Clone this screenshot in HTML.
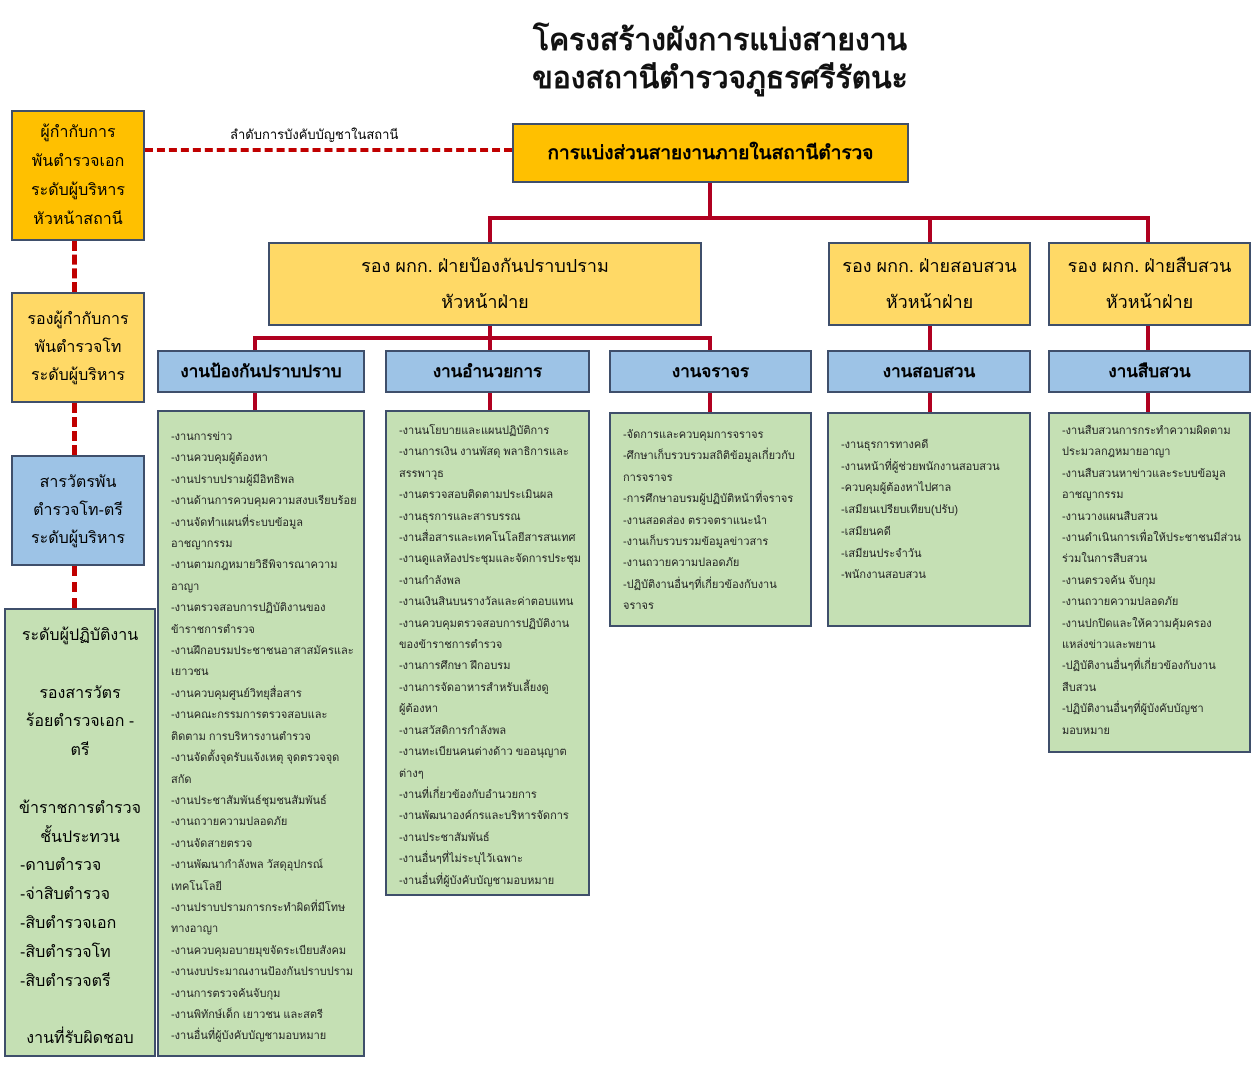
<!DOCTYPE html>
<html><head><meta charset="utf-8">
<style>
body{margin:0;width:1254px;height:1080px;background:#fff;position:relative;overflow:hidden;font-family:"Liberation Sans","DejaVu Sans",sans-serif;}
.b{position:absolute;box-sizing:border-box;border:2px solid #3f4f6b;}
.o{background:#ffc000;}
.y{background:#ffd966;}
.bl{background:#9dc3e6;}
.g{background:#c5e0b4;}
.c{display:flex;align-items:center;justify-content:center;text-align:center;}
.l{position:absolute;background:#b00020;}
.t{font-size:11px;line-height:21.4px;color:#222;padding:15px 0 0 12px;text-align:left;white-space:nowrap;}
.d{position:absolute;left:72px;width:0;border-left:5px dashed #c00000;}
</style></head><body>
<div style="position:absolute;left:470px;top:22px;width:500px;text-align:center;font-size:30px;font-weight:bold;line-height:38px;color:#111">โครงสร้างผังการแบ่งสายงาน<br>ของสถานีตำรวจภูธรศรีรัตนะ</div>

<div class="b o c" style="left:11px;top:110px;width:134px;height:131px;font-size:16px;line-height:29px">ผู้กำกับการ<br>พันตำรวจเอก<br>ระดับผู้บริหาร<br>หัวหน้าสถานี</div>
<div style="position:absolute;left:145px;top:148px;width:367px;border-top:4px dashed #c00000"></div>
<div style="position:absolute;left:230px;top:124px;font-size:13px">ลำดับการบังคับบัญชาในสถานี</div>
<div class="d" style="top:241px;height:51px"></div>
<div class="b y c" style="left:11px;top:292px;width:134px;height:111px;font-size:16px;line-height:28px">รองผู้กำกับการ<br>พันตำรวจโท<br>ระดับผู้บริหาร</div>
<div class="d" style="top:403px;height:52px"></div>
<div class="b bl c" style="left:11px;top:455px;width:134px;height:111px;font-size:16px;line-height:28px">สารวัตรพัน<br>ตำรวจโท-ตรี<br>ระดับผู้บริหาร</div>
<div class="d" style="top:566px;height:42px"></div>
<div class="b g" style="left:4px;top:608px;width:152px;height:449px;font-size:16px;line-height:28.8px;text-align:center;padding-top:12px">ระดับผู้ปฏิบัติงาน<br><br>รองสารวัตร<br>ร้อยตำรวจเอก -<br>ตรี<br><br>ข้าราชการตำรวจ<br>ชั้นประทวน<div style="text-align:left;padding-left:14px">-ดาบตำรวจ<br>-จ่าสิบตำรวจ<br>-สิบตำรวจเอก<br>-สิบตำรวจโท<br>-สิบตำรวจตรี</div><br>งานที่รับผิดชอบ</div>

<div class="b o c" style="left:512px;top:123px;width:397px;height:60px;font-size:19px;font-weight:bold">การแบ่งส่วนสายงานภายในสถานีตำรวจ</div>
<div class="l" style="left:708px;top:183px;width:4px;height:36px"></div>
<div class="l" style="left:488px;top:216px;width:662px;height:4px"></div>
<div class="l" style="left:488px;top:216px;width:4px;height:27px"></div>
<div class="l" style="left:928px;top:216px;width:4px;height:27px"></div>
<div class="l" style="left:1146px;top:216px;width:4px;height:27px"></div>

<div class="b y c" style="left:268px;top:242px;width:434px;height:84px;font-size:18px;line-height:36px">รอง ผกก. ฝ่ายป้องกันปราบปราม<br>หัวหน้าฝ่าย</div>
<div class="b y c" style="left:828px;top:242px;width:203px;height:84px;font-size:18px;line-height:36px">รอง ผกก. ฝ่ายสอบสวน<br>หัวหน้าฝ่าย</div>
<div class="b y c" style="left:1048px;top:242px;width:203px;height:84px;font-size:18px;line-height:36px">รอง ผกก. ฝ่ายสืบสวน<br>หัวหน้าฝ่าย</div>

<div class="l" style="left:488px;top:326px;width:4px;height:13px"></div>
<div class="l" style="left:253px;top:336px;width:459px;height:4px"></div>
<div class="l" style="left:253px;top:336px;width:4px;height:15px"></div>
<div class="l" style="left:488px;top:336px;width:4px;height:15px"></div>
<div class="l" style="left:708px;top:336px;width:4px;height:15px"></div>
<div class="l" style="left:928px;top:326px;width:4px;height:25px"></div>
<div class="l" style="left:1146px;top:326px;width:4px;height:25px"></div>

<div class="b bl c" style="left:157px;top:350px;width:208px;height:43px;font-size:17px;font-weight:bold">งานป้องกันปราบปราบ</div>
<div class="b bl c" style="left:385px;top:350px;width:205px;height:43px;font-size:17px;font-weight:bold">งานอำนวยการ</div>
<div class="b bl c" style="left:609px;top:350px;width:203px;height:43px;font-size:17px;font-weight:bold">งานจราจร</div>
<div class="b bl c" style="left:827px;top:350px;width:204px;height:43px;font-size:17px;font-weight:bold">งานสอบสวน</div>
<div class="b bl c" style="left:1048px;top:350px;width:203px;height:43px;font-size:17px;font-weight:bold">งานสืบสวน</div>

<div class="l" style="left:253px;top:393px;width:4px;height:18px"></div>
<div class="l" style="left:488px;top:393px;width:4px;height:18px"></div>
<div class="l" style="left:708px;top:393px;width:4px;height:20px"></div>
<div class="l" style="left:928px;top:393px;width:4px;height:20px"></div>
<div class="l" style="left:1146px;top:393px;width:4px;height:20px"></div>

<div class="b g t" style="left:157px;top:410px;width:208px;height:647px">-งานการข่าว<br>-งานควบคุมผู้ต้องหา<br>-งานปราบปรามผู้มีอิทธิพล<br>-งานด้านการควบคุมความสงบเรียบร้อย<br>-งานจัดทำแผนที่ระบบข้อมูล<br>อาชญากรรม<br>-งานตามกฎหมายวิธีพิจารณาความ<br>อาญา<br>-งานตรวจสอบการปฏิบัติงานของ<br>ข้าราชการตำรวจ<br>-งานฝึกอบรมประชาชนอาสาสมัครและ<br>เยาวชน<br>-งานควบคุมศูนย์วิทยุสื่อสาร<br>-งานคณะกรรมการตรวจสอบและ<br>ติดตาม การบริหารงานตำรวจ<br>-งานจัดตั้งจุดรับแจ้งเหตุ จุดตรวจจุด<br>สกัด<br>-งานประชาสัมพันธ์ชุมชนสัมพันธ์<br>-งานถวายความปลอดภัย<br>-งานจัดสายตรวจ<br>-งานพัฒนากำลังพล วัสดุอุปกรณ์<br>เทคโนโลยี<br>-งานปราบปรามการกระทำผิดที่มีโทษ<br>ทางอาญา<br>-งานควบคุมอบายมุขจัดระเบียบสังคม<br>-งานงบประมาณงานป้องกันปราบปราม<br>-งานการตรวจค้นจับกุม<br>-งานพิทักษ์เด็ก เยาวชน และสตรี<br>-งานอื่นที่ผู้บังคับบัญชามอบหมาย</div>

<div class="b g t" style="left:385px;top:410px;width:205px;height:486px;padding-top:9px">-งานนโยบายและแผนปฏิบัติการ<br>-งานการเงิน งานพัสดุ พลาธิการและ<br>สรรพาวุธ<br>-งานตรวจสอบติดตามประเมินผล<br>-งานธุรการและสารบรรณ<br>-งานสื่อสารและเทคโนโลยีสารสนเทศ<br>-งานดูแลห้องประชุมและจัดการประชุม<br>-งานกำลังพล<br>-งานเงินสินบนรางวัลและค่าตอบแทน<br>-งานควบคุมตรวจสอบการปฏิบัติงาน<br>ของข้าราชการตำรวจ<br>-งานการศึกษา ฝึกอบรม<br>-งานการจัดอาหารสำหรับเลี้ยงดู<br>ผู้ต้องหา<br>-งานสวัสดิการกำลังพล<br>-งานทะเบียนคนต่างด้าว ขออนุญาต<br>ต่างๆ<br>-งานที่เกี่ยวข้องกับอำนวยการ<br>-งานพัฒนาองค์กรและบริหารจัดการ<br>-งานประชาสัมพันธ์<br>-งานอื่นๆที่ไม่ระบุไว้เฉพาะ<br>-งานอื่นที่ผู้บังคับบัญชามอบหมาย</div>

<div class="b g t" style="left:609px;top:412px;width:203px;height:215px;padding-top:11px">-จัดการและควบคุมการจราจร<br>-ศึกษาเก็บรวบรวมสถิติข้อมูลเกี่ยวกับ<br>การจราจร<br>-การศึกษาอบรมผู้ปฏิบัติหน้าที่จราจร<br>-งานสอดส่อง ตรวจตราแนะนำ<br>-งานเก็บรวบรวมข้อมูลข่าวสาร<br>-งานถวายความปลอดภัย<br>-ปฏิบัติงานอื่นๆที่เกี่ยวข้องกับงาน<br>จราจร</div>

<div class="b g t" style="left:827px;top:412px;width:204px;height:215px;padding-top:21px;line-height:21.7px">-งานธุรการทางคดี<br>-งานหน้าที่ผู้ช่วยพนักงานสอบสวน<br>-ควบคุมผู้ต้องหาไปศาล<br>-เสมียนเปรียบเทียบ(ปรับ)<br>-เสมียนคดี<br>-เสมียนประจำวัน<br>-พนักงานสอบสวน</div>

<div class="b g t" style="left:1048px;top:412px;width:203px;height:341px;padding-top:7px">-งานสืบสวนการกระทำความผิดตาม<br>ประมวลกฎหมายอาญา<br>-งานสืบสวนหาข่าวและระบบข้อมูล<br>อาชญากรรม<br>-งานวางแผนสืบสวน<br>-งานดำเนินการเพื่อให้ประชาชนมีส่วน<br>ร่วมในการสืบสวน<br>-งานตรวจค้น จับกุม<br>-งานถวายความปลอดภัย<br>-งานปกปิดและให้ความคุ้มครอง<br>แหล่งข่าวและพยาน<br>-ปฏิบัติงานอื่นๆที่เกี่ยวข้องกับงาน<br>สืบสวน<br>-ปฏิบัติงานอื่นๆที่ผู้บังคับบัญชา<br>มอบหมาย</div>
</body></html>
